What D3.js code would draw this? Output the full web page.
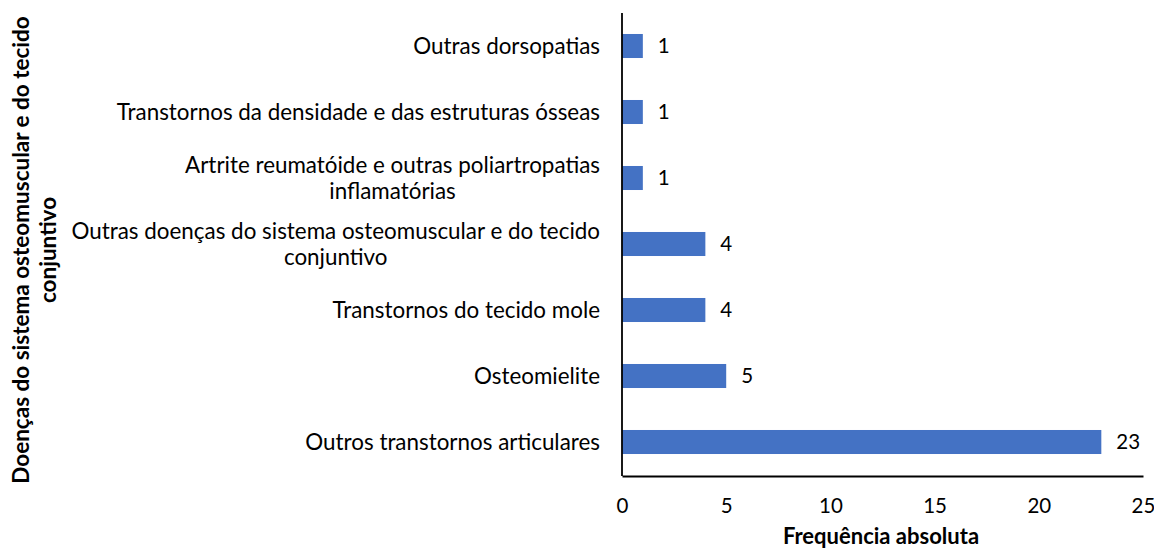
<!DOCTYPE html>
<html><head><meta charset="utf-8">
<script src="https://cdn.jsdelivr.net/npm/d3@7"></script>
<style>body{margin:0;background:#fff}svg{display:block}</style>
</head><body>
<script>
const categories = [
  ["Outras dorsopatias"],
  ["Transtornos da densidade e das estruturas ósseas"],
  ["Artrite reumatóide e outras poliartropatias", "inflamatórias"],
  ["Outras doenças do sistema osteomuscular e do tecido", "conjuntivo"],
  ["Transtornos do tecido mole"],
  ["Osteomielite"],
  ["Outros transtornos articulares"]
];
const values = [1, 1, 1, 4, 4, 5, 23];
const xTicks = [0, 5, 10, 15, 20, 25];
const xTitle = "Frequência absoluta";
const yTitle = ["Doenças do sistema osteomuscular e do tecido", "conjuntivo"];

const W = 1154, H = 551;
const FONT = "Lato, 'Open Sans', sans-serif";
const svg = d3.select("body").append("svg").attr("width", W).attr("height", H);

const x = d3.scaleLinear().domain([0, 25]).range([622, 1143]);
const y = d3.scaleBand().domain(d3.range(categories.length)).range([13, 475]).paddingInner(0.636).paddingOuter(0.318);

// bars
svg.append("g").selectAll("rect").data(values).join("rect")
  .attr("x", x(0)).attr("y", (d, i) => y(i))
  .attr("width", d => x(d) - x(0)).attr("height", y.bandwidth())
  .attr("fill", "#4472C4");

// value labels
svg.append("g").selectAll("text").data(values).join("text")
  .attr("x", d => x(d) + 15).attr("y", (d, i) => y(i) + y.bandwidth() / 2)
  .attr("dy", "0.35em").attr("font-family", FONT).attr("font-size", 20.5)
  .attr("fill", "#000").text(d => d);

// category labels (centered lines, block right-aligned at 600)
const catG = svg.append("g");
categories.forEach((lines, i) => {
  const cy = y(i) + y.bandwidth() / 2;
  const lh = 26;
  const t = catG.append("text").attr("font-family", FONT).attr("font-size", 22.4).attr("fill", "#000");
  const tsp = lines.map((l, k) => t.append("tspan").attr("y", cy + (k - (lines.length - 1) / 2) * lh).attr("dy", "0.35em").text(l));
  const widths = tsp.map(s => s.node().getComputedTextLength());
  const maxW = Math.max(...widths);
  const center = 600 - maxW / 2;
  tsp.forEach(s => s.attr("x", center).attr("text-anchor", "middle"));
});

// x axis
const xAxis = d3.axisBottom(x).tickValues(xTicks).tickSize(0).tickPadding(22);
const gx = svg.append("g").attr("transform", "translate(0,476)").call(xAxis);
gx.select(".domain").attr("stroke", "#000").attr("stroke-width", 1.8);
gx.selectAll("text").attr("font-family", FONT).attr("font-size", 20.5).attr("fill", "#000");

// y axis line
const yAxis = d3.axisLeft(y).tickSize(0).tickFormat("");
const gy = svg.append("g").attr("transform", "translate(622,0)").call(yAxis);
gy.select(".domain").attr("stroke", "#000").attr("stroke-width", 1.8).attr("d", "M0,13V476");

// x title
svg.append("text").attr("x", 881).attr("y", 536).attr("dy", "0.35em")
  .attr("text-anchor", "middle").attr("font-family", FONT).attr("font-weight", "bold")
  .attr("font-size", 22).text(xTitle);

// y title
const yt = svg.append("text").attr("transform", "translate(21,250) rotate(-90)")
  .attr("text-anchor", "middle").attr("font-family", FONT).attr("font-weight", "bold").attr("font-size", 22.5);
yTitle.forEach((l, k) => yt.append("tspan").attr("x", 0).attr("y", k * 27).attr("dy", "0.35em").text(l));
</script>
</body></html>
